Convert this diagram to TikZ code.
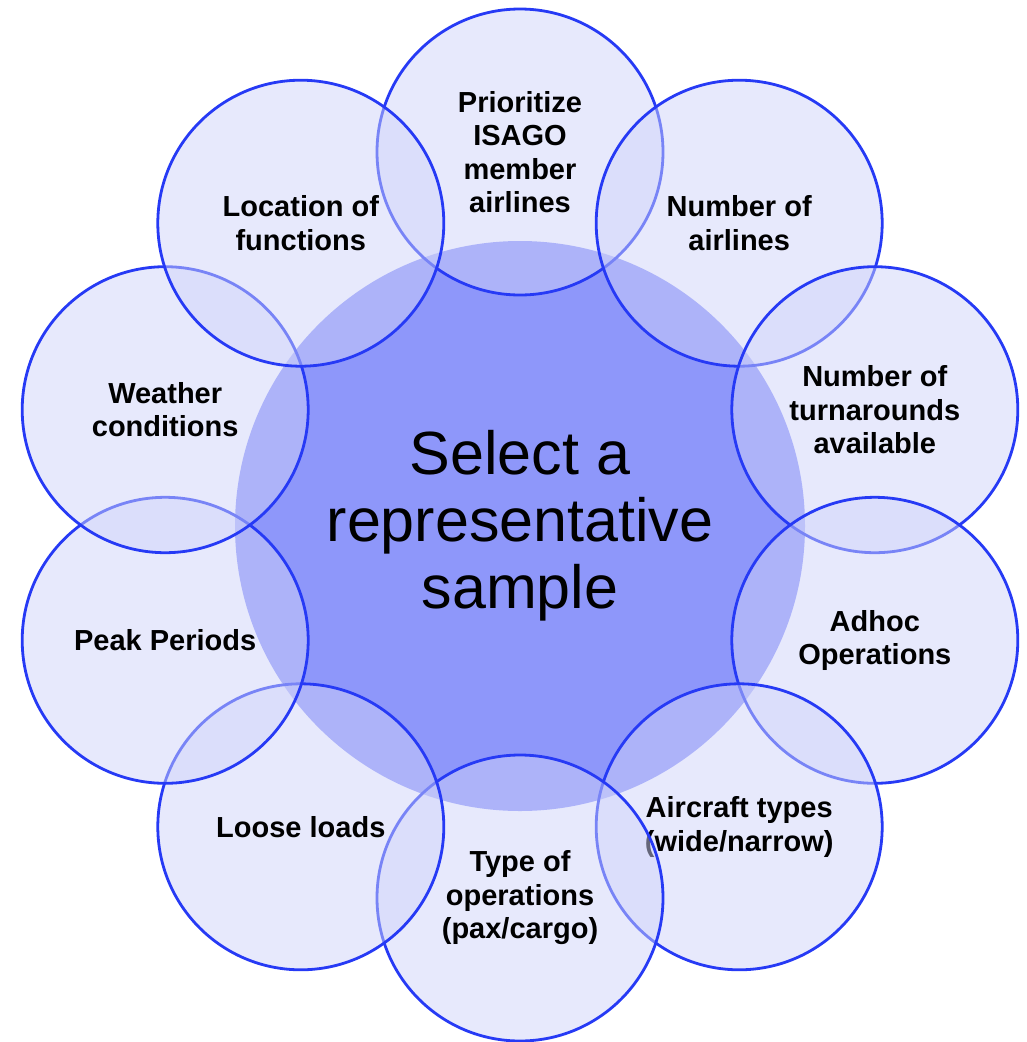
\documentclass[tikz,border=0pt]{standalone}
\usepackage{fontspec}
\setmainfont{Liberation Sans}
\definecolor{corefill}{RGB}{142,151,250}
\definecolor{petalfill}{RGB}{206,210,249}
\definecolor{petalline}{RGB}{38,58,245}

\begin{document}
\begin{tikzpicture}[x=1pt,y=-1pt,
  core/.style={circle, minimum size=570pt, inner sep=0pt, fill=corefill,
    align=center, font=\fontsize{61}{67}\selectfont},
  petal/.style={circle, minimum size=286pt, inner sep=0pt,
    fill=petalfill, fill opacity=0.49, draw=petalline, draw opacity=1,
    text opacity=1, line width=2.8pt, align=center,
    font=\fontsize{29}{33.5}\selectfont\bfseries}]
\useasboundingbox (0,0) rectangle (1026,1042);

% central topic
\node[core] (core) at (520,526) {Select a\\representative\\sample};

% surrounding factors, drawn clockwise from the top so each one overlaps the previous
\node[petal] (isago)    at (520,152)     {Prioritize\\ISAGO\\member\\airlines};
\node[petal] (airlines) at (739.2,223.2) {Number of\\airlines};
\node[petal] (turns)    at (874.8,409.7) {Number of\\turnarounds\\available};
\node[petal] (adhoc)    at (874.8,640.3) {Adhoc\\Operations};
\node[petal] (aircraft) at (739.2,826.8) {Aircraft types\\(wide/narrow)};
\node[petal] (ops)      at (520,898)     {Type of\\operations\\(pax/cargo)};
\node[petal] (loose)    at (300.8,826.8) {Loose loads};
\node[petal] (peak)     at (165.2,640.3) {Peak Periods};
\node[petal] (weather)  at (165.2,409.7) {Weather\\conditions};
\node[petal] (location) at (300.8,223.2) {Location of\\functions};
\end{tikzpicture}
\end{document}
